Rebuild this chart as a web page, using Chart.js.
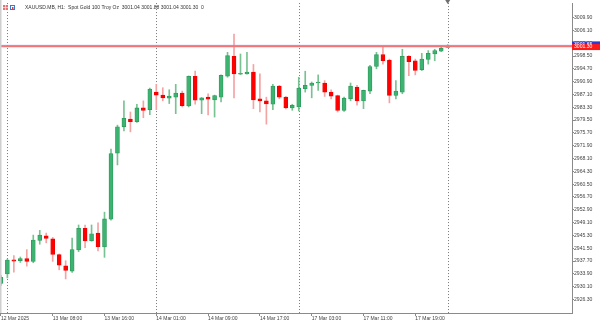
<!DOCTYPE html>
<html lang="en">
<head>
<meta charset="UTF-8">
<title>XAUUSD.MB, H1</title>
<style>
    body { margin: 0; background: #fff; }
    #wrap { width: 600px; height: 321px; }
</style>
</head>
<body>
<div id="wrap"><canvas id="chart" width="600" height="321"></canvas></div>

<script src="https://cdn.jsdelivr.net/npm/chart.js@4/dist/chart.umd.min.js"></script>
<script>
// H1 bars from 12 Mar 23:00 to 18 Mar 01:00, x = bar index
const opens  = [2931.1, 2933.9, 2938.1, 2937.8, 2938.4, 2937.6, 2943.8, 2945.2, 2944.3, 2939.6,
                2936.3, 2934.7, 2941.0, 2947.4, 2943.7, 2946.0, 2941.9, 2950.1, 2969.7, 2977.5,
                2979.8, 2979.0, 2983.1, 2982.6, 2987.8, 2986.9, 2986.0, 2986.3, 2987.5, 2983.7,
                2992.5, 2985.4, 2986.3, 2985.5, 2986.3, 2992.5, 2998.4, 2993.1, 2993.2, 2993.7,
                2985.8, 2985.2, 2984.2, 2989.6, 2986.3, 2983.1, 2983.4, 2988.8, 2989.8, 2990.5,
                2990.5, 2987.8, 2986.8, 2982.4, 2985.8, 2989.3, 2985.2, 2988.1, 2995.4, 2998.9,
                2997.3, 2986.8, 2987.8, 2998.4, 2997.1, 2994.4, 2997.5, 2999.1, 2999.9, 3001.04];
const highs  = [2933.5, 2938.3, 2939.3, 2938.9, 2941.1, 2945.4, 2946.8, 2946.0, 2944.7, 2939.8,
                2937.8, 2944.5, 2948.4, 2948.4, 2948.4, 2949.0, 2952.2, 2970.9, 2978.0, 2985.2,
                2981.9, 2984.2, 2985.2, 2989.0, 2990.1, 2989.1, 2988.5, 2990.1, 2988.1, 2992.6,
                2994.0, 2986.2, 2987.3, 2986.9, 2992.9, 2999.6, 3005.0, 2999.1, 2999.6, 2996.0,
                2993.2, 2986.3, 2990.1, 2989.8, 2986.5, 2984.2, 2992.2, 2994.0, 2990.8, 2992.9,
                2991.2, 2988.5, 2986.9, 2986.3, 2990.5, 2989.8, 2988.4, 2995.7, 2999.6, 3001.1,
                2997.6, 2991.2, 3000.5, 2998.6, 2997.6, 2999.3, 3000.1, 3000.5, 3001.5, 3001.88];
const lows   = [2930.5, 2932.7, 2934.4, 2937.3, 2936.2, 2937.2, 2942.7, 2943.1, 2937.6, 2935.1,
                2932.4, 2934.3, 2940.5, 2941.7, 2943.6, 2940.7, 2938.8, 2949.8, 2966.2, 2976.3,
                2976.0, 2978.8, 2980.2, 2981.1, 2982.6, 2985.2, 2984.4, 2981.4, 2983.4, 2983.4,
                2984.2, 2981.4, 2981.0, 2980.4, 2984.9, 2992.2, 2986.1, 2993.0, 2993.1, 2982.9,
                2981.9, 2978.3, 2982.6, 2985.8, 2982.8, 2982.4, 2982.2, 2987.8, 2986.1, 2988.3,
                2986.5, 2985.8, 2981.9, 2982.1, 2985.2, 2983.9, 2982.9, 2987.3, 2994.7, 2996.1,
                2984.6, 2985.8, 2987.3, 2992.7, 2992.9, 2994.2, 2996.1, 2997.1, 2999.8, 3001.04];
const closes = [2932.9, 2938.0, 2937.7, 2938.4, 2937.6, 2943.9, 2945.4, 2944.4, 2939.7, 2936.5,
                2934.9, 2941.1, 2947.4, 2943.7, 2945.8, 2942.0, 2950.2, 2969.6, 2977.5, 2980.0,
                2979.0, 2983.1, 2982.4, 2988.7, 2986.9, 2986.1, 2986.6, 2987.5, 2983.8, 2992.5,
                2985.4, 2986.1, 2985.7, 2986.8, 2992.8, 2998.6, 2993.2, 2993.4, 2993.7, 2985.5,
                2985.2, 2984.3, 2989.6, 2986.3, 2983.1, 2983.9, 2989.0, 2989.8, 2990.5, 2990.8,
                2987.8, 2986.6, 2982.4, 2986.0, 2989.6, 2985.2, 2988.3, 2995.4, 2998.9, 2997.1,
                2986.8, 2988.1, 2998.4, 2996.8, 2994.2, 2997.6, 2999.3, 3000.1, 3000.8, 3001.30];

const timeTickIndex  = [0, 8, 16, 24, 32, 40, 48, 56, 64];
const timeTickLabels = ['12 Mar 2025', '13 Mar 08:00', '13 Mar 16:00', '14 Mar 01:00', '14 Mar 09:00',
                        '14 Mar 17:00', '17 Mar 03:00', '17 Mar 11:00', '17 Mar 19:00'];
const daySeparators  = [1, 24, 46, 69];
const priceTicks = [2926.30, 2930.10, 2933.90, 2937.70, 2941.50, 2945.30, 2949.10, 2952.90,
                    2956.70, 2960.50, 2964.30, 2968.10, 2971.90, 2975.70, 2979.50, 2983.30,
                    2987.10, 2990.90, 2994.70, 2998.50, 3002.30, 3006.10, 3009.90];
const bidPrice = 3001.30;
const askPrice = 3001.65;
const headerText = 'XAUUSD.MB, H1:  Spot Gold 100 Troy Oz  3001.04 3001.88 3001.04 3001.30  0';

// colours
const upFill = '#3cb371', upEdge = '#2c9a5a', upWick = '#78c291';
const downFill = '#ff0000', downEdge = '#ee0000', downWick = '#f4a3a3';
const FONT = '"Liberation Sans", Arial, sans-serif';

const isUp = opens.map((o, i) => closes[i] >= o);
const bodies = opens.map((o, i) => ({ x: i, y: [o, closes[i]] }));
const wicks = lows.map((l, i) => ({ x: i, y: [l, highs[i]] }));

// dotted day separators, price lines, header, price tags
const mtOverlay = {
    id: 'mtOverlay',
    beforeDatasetsDraw(chart) {
        const { ctx, chartArea, scales: { x } } = chart;
        ctx.save();
        ctx.strokeStyle = '#7a7a7a';
        ctx.lineWidth = 1;
        ctx.setLineDash([1, 2]);
        daySeparators.forEach(i => {
            const px = Math.round(x.getPixelForValue(i)) + 0.5;
            ctx.beginPath();
            ctx.moveTo(px, chartArea.top);
            ctx.lineTo(px, chartArea.bottom);
            ctx.stroke();
        });
        ctx.restore();
    },
    afterDatasetsDraw(chart) {
        const { ctx, chartArea, scales: { y } } = chart;
        ctx.save();
        ctx.lineWidth = 1;
        ctx.strokeStyle = '#9090f4';
        let py = y.getPixelForValue(askPrice);
        ctx.beginPath(); ctx.moveTo(chartArea.left, py); ctx.lineTo(chartArea.right, py); ctx.stroke();
        ctx.lineWidth = 1.5;
        ctx.strokeStyle = '#f27474';
        py = y.getPixelForValue(bidPrice);
        ctx.beginPath(); ctx.moveTo(chartArea.left, py); ctx.lineTo(chartArea.right, py); ctx.stroke();
        ctx.restore();
    },
    afterDraw(chart) {
        const { ctx, chartArea, scales: { x, y } } = chart;
        ctx.save();

        // left window edge
        ctx.fillStyle = '#cfcfcf';
        ctx.fillRect(0, 0, 1.5, chartArea.bottom);

        // shift marker
        const sx = x.getPixelForValue(daySeparators[daySeparators.length - 1]);
        ctx.fillStyle = '#6e6e6e';
        ctx.beginPath();
        ctx.moveTo(sx - 2.5, 0); ctx.lineTo(sx + 2.5, 0); ctx.lineTo(sx, 4);
        ctx.closePath(); ctx.fill();

        // header icons
        ctx.fillStyle = '#e57373';
        ctx.fillRect(3, 5, 5, 5);
        ctx.strokeStyle = '#fff';
        ctx.lineWidth = 0.6;
        ctx.beginPath();
        ctx.moveTo(3, 7.5); ctx.lineTo(8, 7.5); ctx.moveTo(5.5, 5); ctx.lineTo(5.5, 10);
        ctx.stroke();
        ctx.strokeStyle = '#3a78d6';
        ctx.lineWidth = 1;
        ctx.strokeRect(10.5, 5.5, 4, 4);
        ctx.fillStyle = '#e53935';
        ctx.fillRect(12, 7, 1.5, 2);

        // header text, sized to the reference width
        ctx.font = '6px ' + FONT;
        const w = ctx.measureText(headerText).width;
        const size = 6 * 179 / w;
        ctx.font = size.toFixed(2) + 'px ' + FONT;
        ctx.fillStyle = '#333';
        ctx.textBaseline = 'middle';
        ctx.textAlign = 'left';
        ctx.fillText(headerText, 25, 8);

        // price tags on the axis
        const left = chartArea.right;
        ctx.font = '5.1px ' + FONT;
        let py = y.getPixelForValue(askPrice);
        ctx.fillStyle = '#2b3bd6';
        ctx.fillRect(left, py - 4, 600 - left, 6);
        ctx.fillStyle = '#fff';
        ctx.fillText(askPrice.toFixed(2), left + 2, py - 1);
        py = y.getPixelForValue(bidPrice);
        ctx.fillStyle = '#ff1a1a';
        ctx.fillRect(left, py - 2.5, 600 - left, 6);
        ctx.fillStyle = '#fff';
        ctx.fillText(bidPrice.toFixed(2), left + 2, py + 0.5);

        ctx.restore();
    }
};

new Chart(document.getElementById('chart'), {
    type: 'bar',
    data: {
        datasets: [
            {
                label: 'body',
                data: bodies,
                order: 1,
                grouped: false,
                barThickness: 4,
                minBarLength: 1,
                borderSkipped: false,
                borderWidth: 0.8,
                backgroundColor: isUp.map(u => u ? upFill : downFill),
                borderColor: isUp.map(u => u ? upEdge : downEdge)
            },
            {
                label: 'wick',
                data: wicks,
                order: 2,
                grouped: false,
                barThickness: 1,
                borderWidth: 0,
                backgroundColor: isUp.map(u => u ? upWick : downWick)
            }
        ]
    },
    options: {
        responsive: false,
        animation: false,
        events: [],
        layout: { padding: 0 },
        plugins: { legend: { display: false }, tooltip: { enabled: false }, title: { display: false } },
        scales: {
            x: {
                type: 'linear',
                offset: false,
                min: -0.14,
                max: 88.2,
                afterBuildTicks: s => { s.ticks = timeTickIndex.map(v => ({ value: v })); },
                afterFit: s => { s.height = 8; },
                grid: { offset: false, drawOnChartArea: false, tickLength: 3, color: '#8a8a8a' },
                border: { display: true, color: '#8a8a8a' },
                ticks: {
                    autoSkip: false,
                    maxRotation: 0,
                    align: 'start',
                    padding: 0,
                    color: '#444',
                    font: { family: FONT, size: 5, lineHeight: 1 },
                    callback: v => timeTickLabels[timeTickIndex.indexOf(v)]
                }
            },
            y: {
                position: 'right',
                min: 2922.3,
                max: 3014.2,
                afterBuildTicks: s => { s.ticks = priceTicks.map(v => ({ value: v })); },
                afterFit: s => { s.width = 28; },
                grid: { drawOnChartArea: false, tickLength: 2, color: '#8a8a8a' },
                border: { display: true, color: '#8a8a8a' },
                ticks: {
                    autoSkip: false,
                    padding: 0,
                    color: '#444',
                    font: { family: FONT, size: 5.1 },
                    callback: v => v.toFixed(2)
                }
            }
        }
    },
    plugins: [mtOverlay]
});
</script>
</body>
</html>
